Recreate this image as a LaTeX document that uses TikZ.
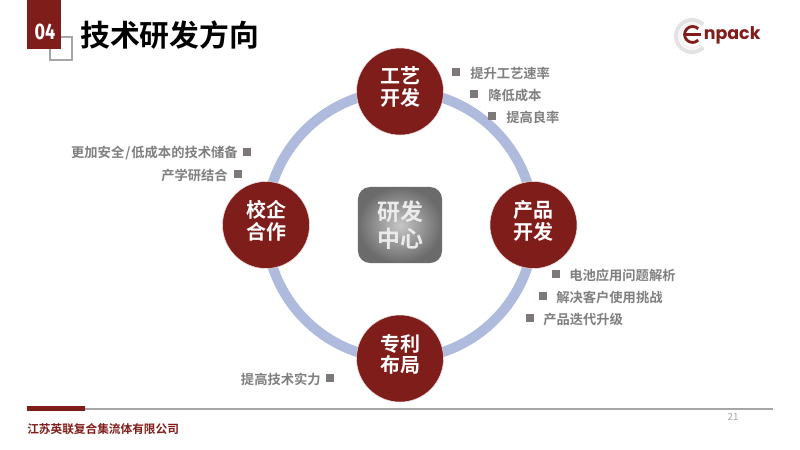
\documentclass[tikz,border=0pt]{standalone}
\usepackage{fontspec}
\setmainfont{Noto Sans CJK SC}[BoldFont={Noto Sans CJK SC Bold}]
\newfontfamily\logofont{Poppins}[BoldFont={Poppins Bold}]
\newfontfamily\numfont{Fira Sans}[BoldFont={Fira Sans Bold}]
\definecolor{darkred}{HTML}{7F1D1A}
\definecolor{ringblue}{HTML}{AEBBDD}
\definecolor{itemgrey}{HTML}{7F7F7F}
\definecolor{squaregrey}{HTML}{7F7878}
\definecolor{linegrey}{HTML}{A6A6A6}
\tikzset{
  topic/.style={circle,fill=darkred,draw=white!85!darkred,line width=.4pt,text=white,
    minimum size=2.175cm,inner sep=0pt,align=center,text depth=.26cm,
    font=\fontsize{14.2}{15.4}\selectfont\bfseries},
  square/.style={fill=squaregrey,minimum size=.2cm,inner sep=0pt},
  item/.style={text=itemgrey,inner sep=0pt,font=\fontsize{9.45}{11}\selectfont\bfseries}
}
\begin{document}
\begin{tikzpicture}[x=.025cm,y=-.025cm]
      \useasboundingbox (0,0) rectangle (800,449);

      % header
      \node[draw=linegrey,line width=.05cm,minimum width=.55cm,minimum height=.575cm,inner sep=0pt] (frame) at (61,48.5) {};
      \node[fill=darkred,minimum width=.85cm,minimum height=1.225cm,inner sep=0pt] (tab) at (44,24.5) {};
      \node[text=white,inner sep=0pt,xscale=.8,font=\numfont\fontsize{16}{16}\selectfont\bfseries] (no) at (45,31.5) {04};
      \node[anchor=west,inner sep=0pt,font=\fontsize{21.2}{24}\selectfont\bfseries] (title) at (80,35) {技术研发方向};

      % logo
      \draw[black!11,line width=.1cm] (703.3,24.7) arc[start angle=-45,end angle=-315,radius=16];
      \draw[black!5,line width=.05cm] (700.5,27.5) arc[start angle=-45,end angle=-315,radius=12];
      \draw[darkred,line width=.07cm] (698.2,28.8) arc[start angle=-45,end angle=-315,radius=8];
      \draw[darkred,line width=.06cm] (685.5,34.5) -- (701,34.5);
      \node[anchor=west,text=darkred,inner sep=0pt,font=\logofont\fontsize{12.4}{14}\selectfont\bfseries] (brand) at (703.5,35) {npack};

      % ring and centre
      \node[circle,draw=ringblue,line width=.25cm,minimum size=6.7cm,inner sep=0pt] (ring) at (400,225) {};
      \node[rounded corners=.3cm,inner color=black!22,outer color=black!58,text=white!92!black,
        minimum width=2.1cm,minimum height=1.9cm,inner sep=0pt,align=center,
        font=\fontsize{16.3}{19.2}\selectfont\bfseries] (center) at (400,225) {研发\\中心};

      \begin{scope}[every node/.style={topic}]
        \node (craft)   at (400,91.5)  {工艺\\开发};
        \node (product) at (533.5,225) {产品\\开发};
        \node (patent)  at (400,358.5) {专利\\布局};
        \node (school)  at (266,225)   {校企\\合作};
      \end{scope}

      \begin{scope}[every node/.style={square}]
        \node (s1)  at (455.5,72) {};
        \node (s2)  at (473.5,94) {};
        \node (s3)  at (492,116)  {};
        \node (s4)  at (555.5,274) {};
        \node (s5)  at (542.5,296) {};
        \node (s6)  at (529.5,318) {};
        \node (s7)  at (247,152)  {};
        \node (s8)  at (238,174)  {};
        \node (s9)  at (330,378)  {};
      \end{scope}

      \begin{scope}[every node/.style={item,anchor=west}]
        \node (t1) at (470,73)  {提升工艺速率};
        \node (t2) at (488,95)  {降低成本};
        \node (t3) at (506,117) {提高良率};
        \node (t4) at (569,275) {电池应用问题解析};
        \node (t5) at (556,297) {解决客户使用挑战};
        \node (t6) at (543,319) {产品迭代升级};
      \end{scope}

      \begin{scope}[every node/.style={item,anchor=east}]
        \node (t7) at (238,153) {更加安全\kern.7pt/\kern.7pt低成本的技术储备};
        \node (t8) at (228,175) {产学研结合};
        \node (t9) at (321,379) {提高技术实力};
      \end{scope}

      % footer
      \coordinate (a) at (27,408.5);
      \coordinate (b) at (773,408.5);
      \coordinate (c) at (85,408.5);
      \draw[linegrey,line width=.05cm] (a) -- (b);
      \draw[darkred,line width=.11cm] (a) -- (c);
      \node[anchor=west,text=darkred,inner sep=0pt,font=\fontsize{8.3}{10}\selectfont\bfseries] (firm) at (27,429) {江苏英联复合集流体有限公司};
      \node[text=black!35,inner sep=0pt,font=\fontsize{7}{8}\selectfont] (page) at (733,417) {21};

    \end{tikzpicture}
\end{document}
